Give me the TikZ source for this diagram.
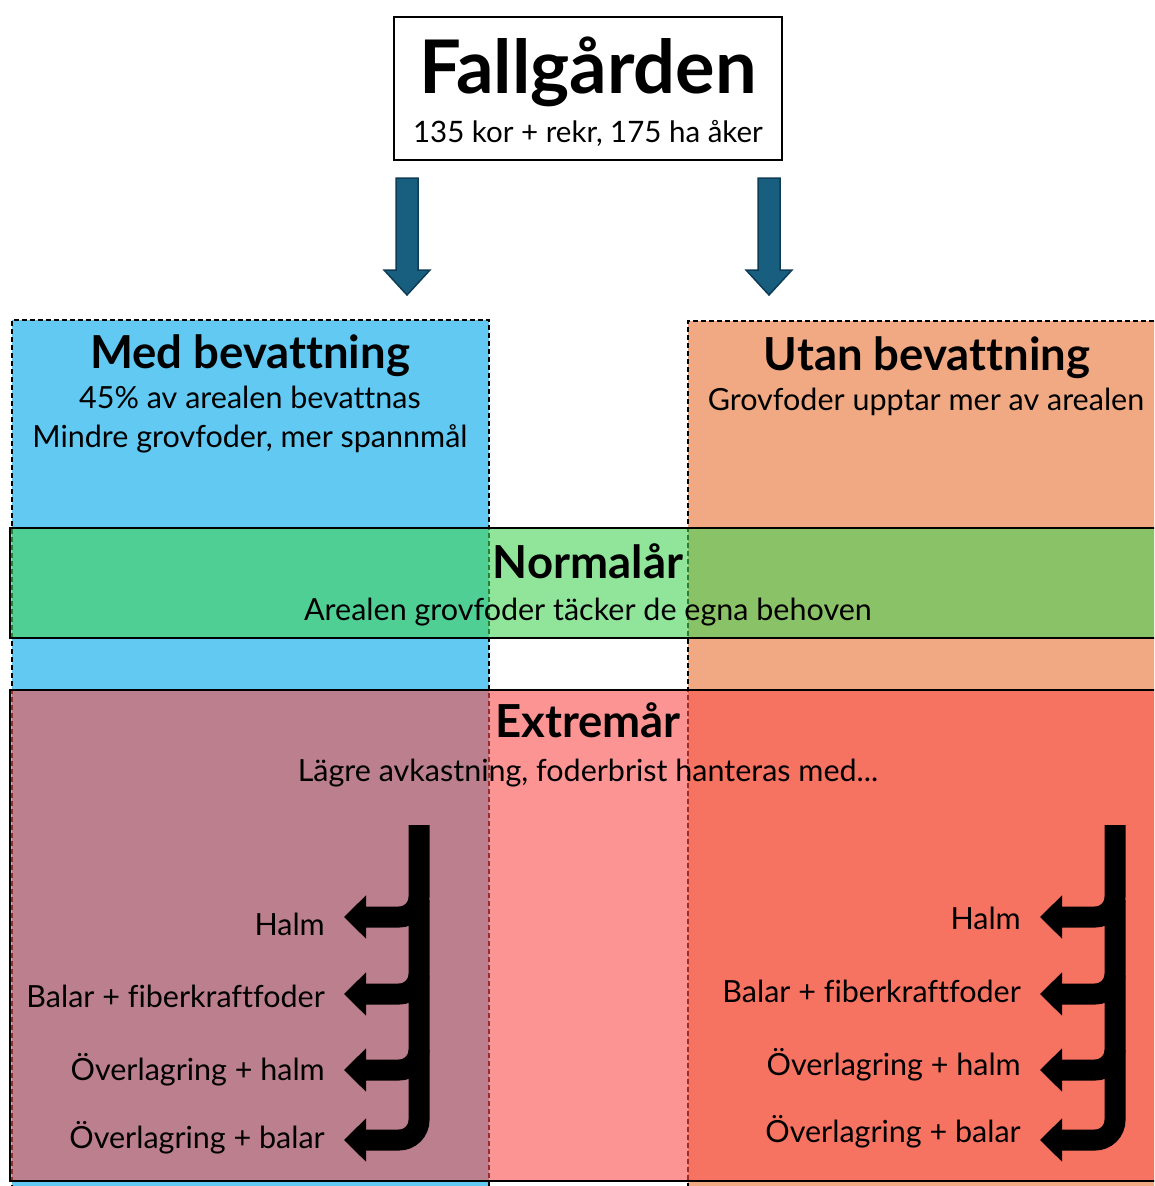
\documentclass[tikz,border=0pt]{standalone}
\usepackage{fontspec}
\setmainfont[Ligatures=NoCommon]{Lato}
\usetikzlibrary{arrows.meta}
\definecolor{colblue}{RGB}{97,201,242}
\definecolor{colorange}{RGB}{240,169,131}
\definecolor{bandgreen}{RGB}{70,212,87}
\definecolor{bandred}{RGB}{250,78,75}
\definecolor{arrblue}{RGB}{24,94,126}
\definecolor{arrblueedge}{RGB}{14,60,86}
\tikzset{
  colbox/.style={draw=black, line width=1.1pt, dash pattern=on 5pt off 3pt},
  bandfill/.style={fill opacity=0.6},
  bandedge/.style={draw=black, line width=2.5pt},
  titlefont/.style={font=\fontsize{74}{80}\selectfont\bfseries},
  headfont/.style={font=\fontsize{45.5}{50}\selectfont\bfseries},
  bodyfont/.style={font=\fontsize{30.5}{34}\selectfont},
  subfont/.style={font=\fontsize{29.5}{34}\selectfont},
  lbl/.style={bodyfont, anchor=base east, inner sep=0pt},
  txt/.style={anchor=base, inner sep=0pt},
  branch/.style={line width=21pt, rounded corners=20pt, -{Triangle[width=42pt,length=22pt]}},
  bigarrow/.style={fill=arrblue, draw=arrblueedge, line width=1.5pt, line join=miter}
}
\begin{document}
\begin{tikzpicture}[x=1pt,y=-1pt]
\useasboundingbox (0,0) rectangle (1154,1186);
\clip (0,0) rectangle (1154,1186);
\fill[white] (0,0) rectangle (1154,1186);

% columns
\fill[colblue] (12,320) rectangle (489,1190);
\fill[colorange] (688,321) rectangle (1170,1190);
\draw[colbox] (12,1190) -- (12,320) -- (489,320) -- (489,1190);
\draw[colbox] (1170,321) -- (688,321) -- (688,1190);

% bands
\fill[bandgreen, bandfill] (10,528) rectangle (1170,638);
\draw[bandedge] (1170,528) -- (10,528) -- (10,638) -- (1170,638);
\fill[bandred, bandfill] (10,690) rectangle (1170,1181);
\draw[bandedge] (1170,690) -- (10,690) -- (10,1181) -- (1170,1181);

% title box
\draw[line width=2.5pt] (394,17) rectangle (782,160);
\node[txt, titlefont] (title) at (588,93) {Fallgården};
\node[txt, subfont] (sub) at (588,142) {135 kor + rekr, 175 ha åker};

% big arrows
\coordinate (la) at (407,178);
\coordinate (ra) at (769,178);
\filldraw[bigarrow] ([xshift=-11pt]la) -- ([xshift=-11pt,yshift=-92pt]la) -- ([xshift=-23pt,yshift=-92pt]la) -- ([yshift=-117pt]la) -- ([xshift=23pt,yshift=-92pt]la) -- ([xshift=11pt,yshift=-92pt]la) -- ([xshift=11pt]la) -- cycle;
\filldraw[bigarrow] ([xshift=-11pt]ra) -- ([xshift=-11pt,yshift=-92pt]ra) -- ([xshift=-23pt,yshift=-92pt]ra) -- ([yshift=-117pt]ra) -- ([xshift=23pt,yshift=-92pt]ra) -- ([xshift=11pt,yshift=-92pt]ra) -- ([xshift=11pt]ra) -- cycle;

% column headings
\node[txt, headfont] (medh) at (250,368) {Med bevattning};
\node[txt, bodyfont] (med1) at (250,408) {45\% av arealen bevattnas};
\node[txt, bodyfont] (med2) at (250,447) {Mindre grovfoder, mer spannmål};
\node[txt, headfont] (utanh) at (927,370) {Utan bevattning};
\node[txt, bodyfont] (utan1) at (926,410) {Grovfoder upptar mer av arealen};

% band texts
\node[txt, headfont] (normh) at (588,578) {Normalår};
\node[txt, bodyfont] (norm1) at (588,620) {Arealen grovfoder täcker de egna behoven};
\node[txt, headfont] (extrh) at (588,737) {Extremår};
\node[txt, bodyfont] (extr1) at (588,781) {Lägre avkastning, foderbrist hanteras med...};

% left branch arrows
\coordinate (L0) at (419,825);
\coordinate (L1) at (419,900);
\coordinate (L2) at (419,975);
\coordinate (L3) at (419,1050);
\node[lbl] (lh) at (325,935) {Halm};
\node[lbl] (lb) at (325,1007) {Balar + fiberkraftfoder};
\node[lbl] (loh) at (325,1080) {Överlagring + halm};
\node[lbl] (lob) at (325,1148) {Överlagring + balar};
\draw[branch] (L0) -- (419,917) -- (344,917);
\draw[branch] (L1) -- (419,994) -- (344,994);
\draw[branch] (L2) -- (419,1070) -- (344,1070);
\draw[branch] (L3) -- (419,1140) -- (344,1140);

% right branch arrows
\coordinate (R0) at (1115,825);
\coordinate (R1) at (1115,900);
\coordinate (R2) at (1115,975);
\coordinate (R3) at (1115,1050);
\node[lbl] (rh) at (1021,929) {Halm};
\node[lbl] (rb) at (1021,1002) {Balar + fiberkraftfoder};
\node[lbl] (roh) at (1021,1075) {Överlagring + halm};
\node[lbl] (rob) at (1021,1142) {Överlagring + balar};
\draw[branch] (R0) -- (1115,917) -- (1040,917);
\draw[branch] (R1) -- (1115,994) -- (1040,994);
\draw[branch] (R2) -- (1115,1070) -- (1040,1070);
\draw[branch] (R3) -- (1115,1140) -- (1040,1140);
\end{tikzpicture}
\end{document}
